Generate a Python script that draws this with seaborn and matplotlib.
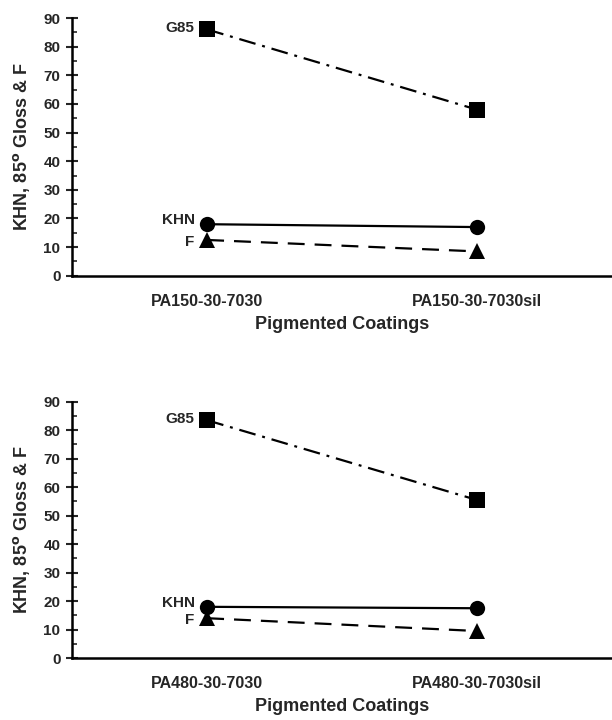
import pandas as pd
import numpy as np
import matplotlib
matplotlib.use('Agg')
import matplotlib.pyplot as plt
import seaborn as sns
from matplotlib.ticker import MultipleLocator

# data
coatings_top = ['PA150-30-7030', 'PA150-30-7030sil']
coatings_bottom = ['PA480-30-7030', 'PA480-30-7030sil']
g85_top = [86, 58]
khn_top = [18, 17]
f_top = [12.5, 8.5]
g85_bottom = [83.5, 55.5]
khn_bottom = [18, 17.5]
f_bottom = [14, 9.5]

series_names = ['G85', 'KHN', 'F']
# small vertical nudges (points) so the labels don't collide
label_nudge = {'G85': 1, 'KHN': 3, 'F': -1.5}

sns.set_style('white')
plt.rcParams['font.family'] = ['Liberation Sans', 'DejaVu Sans']
plt.rcParams['font.weight'] = 'bold'


def make_df(coatings, g85, khn, f):
    rows = []
    for name, vals in zip(series_names, [g85, khn, f]):
        for c, v in zip(coatings, vals):
            rows.append({'coating': c, 'value': v, 'series': name})
    return pd.DataFrame(rows)


def draw_panel(ax, df):
    sns.lineplot(data=df, x='coating', y='value', style='series', ax=ax,
                 color='black', linewidth=1.6,
                 markers={'G85': 's', 'KHN': 'o', 'F': '^'},
                 dashes={'G85': (7.6, 3.1, 1.3, 3.1), 'KHN': '', 'F': (7.6, 4.5)},
                 markersize=11, markeredgewidth=0, legend=False)
    # series labels left of the first point
    first = df[df.coating == df.coating.iloc[0]]
    for _, r in first.iterrows():
        ax.annotate(r.series, (0, r.value), xytext=(-9, label_nudge[r.series]),
                    textcoords='offset points', ha='right', va='center',
                    fontsize=11, fontweight='bold')
    ax.set_xlim(-0.5, 1.5)
    ax.set_ylim(0, 90)
    ax.yaxis.set_major_locator(MultipleLocator(10))
    ax.yaxis.set_minor_locator(MultipleLocator(5))
    ax.tick_params(axis='y', which='major', direction='inout', length=9, width=1.5,
                   labelsize=11, pad=4, left=True)
    ax.tick_params(axis='y', which='minor', direction='in', length=3.5, width=1.2, left=True)
    ax.tick_params(axis='x', length=0, labelsize=11.5, pad=13)
    for lab in ax.get_xticklabels() + ax.get_yticklabels():
        lab.set_fontweight('bold')
    for s in ['top', 'right']:
        ax.spines[s].set_visible(False)
    for s in ['left', 'bottom']:
        ax.spines[s].set_linewidth(1.8)
        ax.spines[s].set_color('black')
    ax.set_xlabel('Pigmented Coatings', fontsize=13, fontweight='bold', labelpad=5)
    ax.set_ylabel('KHN, 85$^{\\rm o}$ Gloss & F', fontsize=13, fontweight='bold', labelpad=8)


fig = plt.figure(figsize=(6.12, 7.2), dpi=100)
ax1 = fig.add_axes([0.118, 0.617, 0.882, 0.358])
ax2 = fig.add_axes([0.118, 0.086, 0.882, 0.356])

draw_panel(ax1, make_df(coatings_top, g85_top, khn_top, f_top))
draw_panel(ax2, make_df(coatings_bottom, g85_bottom, khn_bottom, f_bottom))

fig.savefig('out.png', dpi=100)
